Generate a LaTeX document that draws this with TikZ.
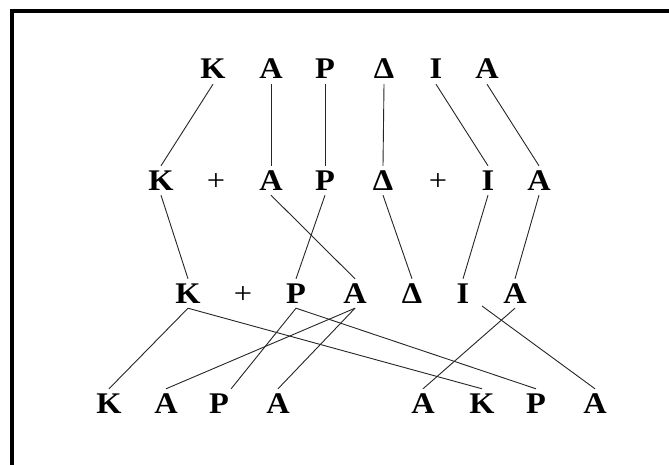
\documentclass[tikz,border=0pt]{standalone}
\usepackage{fontspec}
\setmainfont[FakeStretch=1.08]{Liberation Serif}
\begin{document}
\begin{tikzpicture}[x=1pt,y=-1pt,
  lt/.style={anchor=base,font=\fontsize{30}{32}\selectfont\bfseries,text height=19pt,text depth=0pt,inner xsep=2pt,inner ysep=5pt},
  pl/.style={anchor=base,font=\fontsize{30}{32}\selectfont,inner sep=0pt},
  cn/.style={draw=black!85,line width=0.9pt}]
\useasboundingbox (0,0) rectangle (669,465);
\fill[white] (0,0) rectangle (669,465);
\draw[line width=3.5pt] (12,11) rectangle (720,520);
% row 1
\node[lt] (r1k) at (213,79) {K};
\node[lt] (r1a) at (271,79) {A};
\node[lt] (r1p) at (325,79) {P};
\node[lt] (r1d) at (384,79) {Δ};
\node[lt] (r1i) at (436,79) {I};
\node[lt] (r1e) at (487,79) {A};
% row 2
\node[lt] (r2k) at (161,190) {K};
\node[pl] (r2s) at (216,190) {+};
\node[lt] (r2a) at (271,190) {A};
\node[lt] (r2p) at (325,190) {P};
\node[lt] (r2d) at (383,190) {Δ};
\node[pl] (r2t) at (438,190) {+};
\node[lt] (r2i) at (488,190) {I};
\node[lt] (r2e) at (539,190) {A};
% row 3
\node[lt] (r3k) at (188,303) {K};
\node[pl] (r3s) at (243,303) {+};
\node[lt] (r3p) at (296,303) {P};
\node[lt] (r3a) at (355,303) {A};
\node[lt] (r3d) at (412,303) {Δ};
\node[lt] (r3i) at (463,303) {I};
\node[lt] (r3e) at (515,303) {A};
\coordinate (r3ir) at (482,306);
% row 4
\node[lt] (r4k) at (109,413) {K};
\node[lt] (r4a) at (166,413) {A};
\node[lt] (r4p) at (219,413) {P};
\node[lt] (r4b) at (278,413) {A};
\node[lt] (r4c) at (423,413) {A};
\node[lt] (r4l) at (482,413) {K};
\node[lt] (r4q) at (536,413) {P};
\node[lt] (r4e) at (595,413) {A};
% connectors row 1 -> row 2
\draw[cn] (r1k.south) -- (r2k.north);
\draw[cn] (r1a.south) -- (r2a.north);
\draw[cn] (r1p.south) -- (r2p.north);
\draw[cn] (r1d.south) -- (r2d.north);
\draw[cn] (r1i.south) -- (r2i.north);
\draw[cn] (r1e.south) -- (r2e.north);
% row 2 -> row 3
\draw[cn] (r2k.south) -- (r3k.north);
\draw[cn] (r2a.south) -- (r3a.north);
\draw[cn] (r2p.south) -- (r3p.north);
\draw[cn] (r2d.south) -- (r3d.north);
\draw[cn] (r2i.south) -- (r3i.north);
\draw[cn] (r2e.south) -- (r3e.north);
% row 3 -> row 4
\draw[cn] (r3k.south) -- (r4k.north);
\draw[cn] (r3k.south) -- (r4l.north);
\draw[cn] (r3p.south) -- (r4p.north east);
\draw[cn] (r3p.south) -- (r4q.north);
\draw[cn] (r3a.south) -- (r4a.north);
\draw[cn] (r3a.south) -- (r4b.north);
\draw[cn] (r3e.south) -- (r4c.north);
\draw[cn] (r3ir) -- (r4e.north);
\end{tikzpicture}
\end{document}
